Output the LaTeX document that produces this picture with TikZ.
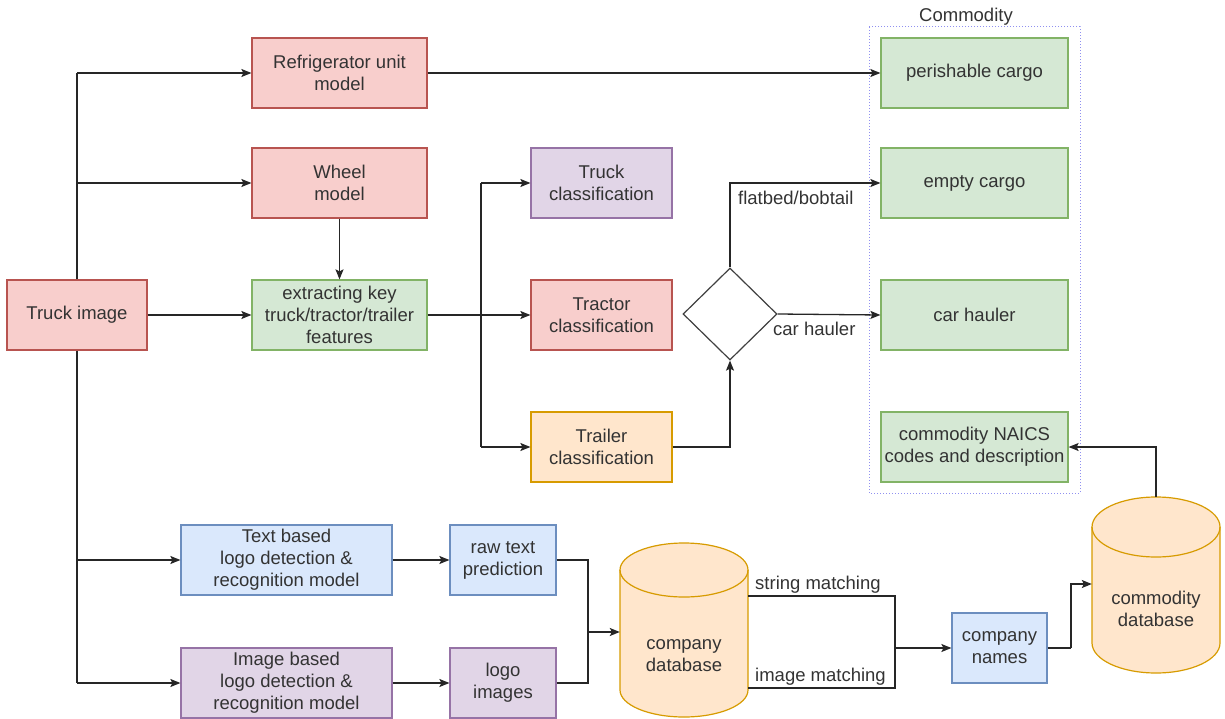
\documentclass[tikz,border=0pt]{standalone}
\usepackage{fontspec}
\setmainfont{Liberation Sans}
\usetikzlibrary{shapes.geometric,arrows.meta}
\definecolor{redf}{HTML}{F8CECC}\definecolor{reds}{HTML}{B85450}
\definecolor{grnf}{HTML}{D5E8D4}\definecolor{grns}{HTML}{82B366}
\definecolor{purf}{HTML}{E1D5E7}\definecolor{purs}{HTML}{9673A6}
\definecolor{orgf}{HTML}{FFE6CC}\definecolor{orgs}{HTML}{D79B00}
\definecolor{bluf}{HTML}{DAE8FC}\definecolor{blus}{HTML}{6C8EBF}
\definecolor{txt}{HTML}{333333}
\definecolor{grpc}{HTML}{9090F0}
\tikzset{
  base/.style={rectangle, draw, line width=1.2pt, minimum height=70pt, inner sep=0pt, align=center,
    text=txt, font=\fontsize{18.5}{22}\selectfont},
  redbox/.style={base, fill=redf, draw=reds},
  grnbox/.style={base, fill=grnf, draw=grns},
  purbox/.style={base, fill=purf, draw=purs},
  orgbox/.style={base, fill=orgf, draw=orgs},
  blubox/.style={base, fill=bluf, draw=blus},
  conn/.style={draw=black!85, line width=1.3pt, -{Stealth[length=10pt,width=8pt,inset=2pt]}},
  line/.style={draw=black!85, line width=1.3pt},
  cyl/.style={fill=orgf, draw=orgs, line width=1.2pt},
  lbl/.style={text=txt, font=\fontsize{18.5}{22}\selectfont, inner sep=0pt},
  geom/.style={rectangle, inner sep=0pt},
}
\begin{document}
\begin{tikzpicture}[x=1pt,y=1pt]
\useasboundingbox (0,0) rectangle (1225,-719);
% group frame
\draw[grpc, dotted, line width=1pt] (869,-27) rectangle (1080,-493);
\node[lbl] (grouplbl) at (966,-17) {Commodity};
% nodes
\node[redbox, minimum width=140pt] (truck) at (77,-315) {Truck image};
\node[redbox, minimum width=175pt] (refr) at (339.5,-73) {Refrigerator unit\\model};
\node[redbox, minimum width=175pt] (wheel) at (339.5,-183) {Wheel\\model};
\node[grnbox, minimum width=175pt] (extract) at (339.5,-315) {extracting key\\truck/tractor/trailer\\features};
\node[purbox, minimum width=141pt] (truckc) at (601.5,-183) {Truck\\classification};
\node[redbox, minimum width=141pt] (tractorc) at (601.5,-315) {Tractor\\classification};
\node[orgbox, minimum width=141pt] (trailerc) at (601.5,-447) {Trailer\\classification};
\node[diamond, draw=black!75, fill=white, line width=1.2pt, minimum width=94pt, minimum height=92pt, inner sep=0pt] (dec) at (730,-314) {};
\node[grnbox, minimum width=187pt] (perish) at (974.5,-73) {perishable cargo};
\node[grnbox, minimum width=187pt] (empty) at (974.5,-183) {empty cargo};
\node[grnbox, minimum width=187pt] (carh) at (974.5,-315) {car hauler};
\node[grnbox, minimum width=187pt] (naics) at (974.5,-447) {commodity NAICS\\codes and description};
\node[blubox, minimum width=211pt] (textb) at (286.5,-560) {Text based\\logo detection \&\\recognition model};
\node[purbox, minimum width=211pt] (imageb) at (286.5,-683) {Image based\\logo detection \&\\recognition model};
\node[blubox, minimum width=106pt] (raw) at (503,-560) {raw text\\prediction};
\node[purbox, minimum width=106pt] (logo) at (503,-683) {logo\\images};
\node[blubox, minimum width=95pt] (names) at (999.5,-648) {company\\names};
% cylinders
\path[cyl] (620,-570) -- (620,-690) arc[start angle=180, end angle=360, x radius=64, y radius=27]
  -- (748,-570) arc[start angle=0, end angle=180, x radius=64, y radius=27] -- cycle;
\draw[orgs, line width=1.2pt] (620,-570) arc[start angle=180, end angle=360, x radius=64, y radius=27];
\node[geom, minimum width=128pt, minimum height=174pt] (cdb) at (684,-630) {};
\node[lbl, align=center] (cdbtext) at (684,-656) {company\\database};
\path[cyl] (1092,-527) -- (1092,-643) arc[start angle=180, end angle=360, x radius=64, y radius=30]
  -- (1220,-527) arc[start angle=0, end angle=180, x radius=64, y radius=30] -- cycle;
\draw[orgs, line width=1.2pt] (1092,-527) arc[start angle=180, end angle=360, x radius=64, y radius=30];
\node[geom, minimum width=128pt, minimum height=176pt] (comdb) at (1156,-585) {};
\node[lbl, align=center] (comdbtext) at (1156,-609) {commodity\\database};
% connectors
\coordinate (tv) at (77,-73);
\draw[line] (truck.north) -- (tv);
\draw[conn] (tv) -- (refr.west);
\draw[conn] (truck.north |- wheel.west) -- (wheel.west);
\draw[conn] (truck.east) -- (extract.west);
\coordinate (tb) at (77,-683);
\draw[line] (truck.south) -- (tb);
\draw[conn] (truck.south |- textb.west) -- (textb.west);
\draw[conn] (tb) -- (imageb.west);
\draw[conn] (wheel.south) -- (extract.north);
\draw[conn] (refr.east) -- (perish.west);
\coordinate (br) at (481,-315);
\draw[line] (extract.east) -- (br);
\draw[line] (br |- truckc.west) -- (br |- trailerc.west);
\draw[conn] (br |- truckc.west) -- (truckc.west);
\draw[conn] (br) -- (tractorc.west);
\draw[conn] (br |- trailerc.west) -- (trailerc.west);
\draw[conn] (trailerc.east) -| (dec.south);
\draw[conn] (dec.north) |- (empty.west);
\draw[conn] (dec.east) -- (carh.west);
\node[lbl, anchor=west] (fbl) at (738,-198) {flatbed/bobtail};
\node[lbl, anchor=west] (chl) at (773,-329) {car hauler};
\draw[conn] (textb.east) -- (raw.west);
\draw[conn] (imageb.east) -- (logo.west);
\coordinate (mg) at (588,-632);
\draw[line] (raw.east) -| (mg);
\draw[line] (logo.east) -| (mg);
\draw[conn] (mg) -- (cdb.west |- mg);
\coordinate (sm) at (748,-596);
\coordinate (im) at (748,-688);
\coordinate (mm) at (895,-648);
\draw[line] (sm) -| (mm);
\draw[line] (im) -| (mm);
\draw[conn] (mm) -- (names.west);
\node[lbl, anchor=south west] (sml) at (755,-594) {string matching};
\node[lbl, anchor=south west] (iml) at (755,-686) {image matching};
\coordinate (cn) at (1071,-648);
\draw[line] (names.east) -- (cn);
\draw[conn] (cn) |- (comdb.west |- 0,-584);
\draw[conn] (comdb.north) |- (naics.east);
\end{tikzpicture}
\end{document}
